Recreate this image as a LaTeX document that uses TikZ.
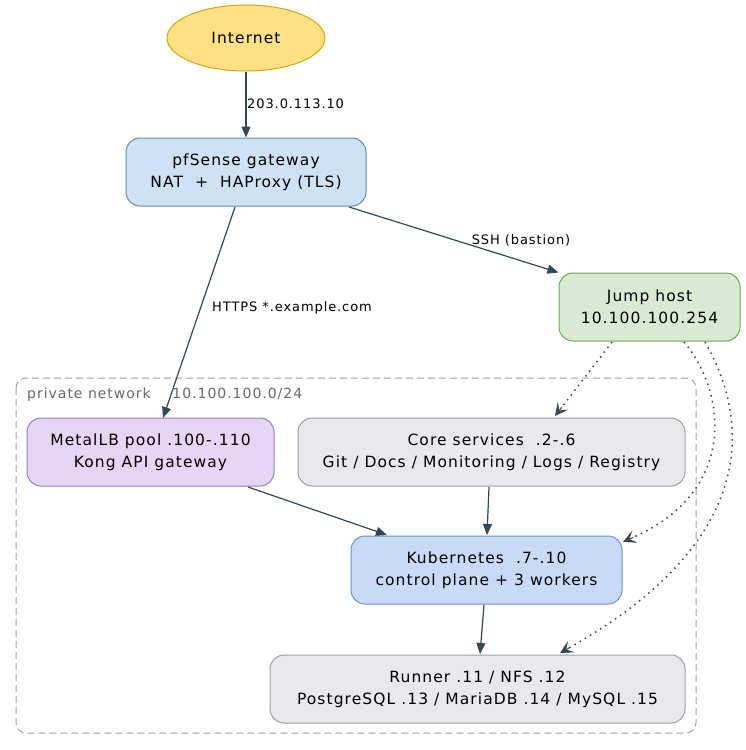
\documentclass[tikz,border=0pt]{standalone}
\usepackage{fontspec}
\setmainfont{DejaVu Sans}[LetterSpace=7]
\usetikzlibrary{arrows.meta,shapes.geometric,calc}
\definecolor{edgec}{HTML}{37474F}
\definecolor{inetf}{HTML}{FFE083}
\definecolor{inetd}{HTML}{D9A50A}
\definecolor{pff}{HTML}{CFE2F3}
\definecolor{pfd}{HTML}{5B8DBD}
\definecolor{jmpf}{HTML}{D9EAD3}
\definecolor{jmpd}{HTML}{6AA84F}
\definecolor{mlbf}{HTML}{E5D6F5}
\definecolor{mlbd}{HTML}{9080C6}
\definecolor{coref}{HTML}{E8E9EC}
\definecolor{cored}{HTML}{9E9E9E}
\definecolor{k8sf}{HTML}{C9DAF8}
\definecolor{k8sd}{HTML}{6D8FD3}
\definecolor{clud}{HTML}{A0A0A0}
\definecolor{clut}{HTML}{666666}
\tikzset{
  nodebox/.style={draw, rounded corners=14pt, minimum height=68pt, align=center, line width=1pt,
    inner sep=0pt, font=\fontsize{15.5}{22}\selectfont, text=black},
  edgelbl/.style={font=\fontsize{13}{15}\selectfont, text=black, inner sep=0pt},
  solidarrow/.style={draw=edgec, line width=1.2pt, -{Triangle[length=11pt,width=9pt]}},
  dotline/.style={draw=edgec, line width=1.5pt, dash pattern=on 1.5pt off 4.5pt},
  veetip/.style={draw=edgec, fill=edgec, line width=1pt, -{Stealth[length=13pt,width=13pt,inset=6pt]}},
}
\begin{document}
\begin{tikzpicture}[x=1pt,y=-1pt]
\useasboundingbox (0,0) rectangle (745,750);
% cluster
\draw[clud, line width=1pt, dash pattern=on 7pt off 4pt, rounded corners=10pt] (16,378) rectangle (696,733);
\node[anchor=base west, inner sep=0pt, text=clut, font=\fontsize{14}{16}\selectfont] (clulbl) at (27,398) {private network\ \ \ \ 10.100.100.0/24};
% nodes
\node[draw=inetd, fill=inetf, ellipse, line width=1pt, minimum width=158pt, minimum height=66pt, inner sep=0pt, font=\fontsize{15.5}{22}\selectfont] (inet) at (246,38) {Internet};
\node[nodebox, draw=pfd, fill=pff, minimum width=240pt] (pf) at (246,172) {pfSense gateway\\NAT~ +~ HAProxy (TLS)};
\node[nodebox, draw=jmpd, fill=jmpf, minimum width=181pt] (jump) at (649.5,307) {Jump host\\10.100.100.254};
\node[nodebox, draw=mlbd, fill=mlbf, minimum width=247pt] (mlb) at (150.5,452) {MetalLB pool .100-.110\\Kong API gateway};
\node[nodebox, draw=cored, fill=coref, minimum width=387pt] (core) at (491.5,452) {Core services~ .2-.6\\Git / Docs / Monitoring / Logs / Registry};
\node[nodebox, draw=k8sd, fill=k8sf, minimum width=271pt] (k8s) at (486.5,570) {Kubernetes~ .7-.10\\control plane + 3 workers};
\node[nodebox, draw=cored, fill=coref, minimum width=415pt] (run) at (477.5,689) {Runner .11 / NFS .12\\PostgreSQL .13 / MariaDB .14 / MySQL .15};
% edges
\draw[solidarrow] (inet.south) -- (pf.north);
\node[edgelbl, anchor=base west] (l1) at (247,108) {203.0.113.10};
\coordinate (pfa) at (349,207);
\draw[solidarrow] (pfa) -- (jump.north west);
\node[edgelbl, anchor=base] (l2) at (521,244) {SSH (bastion)};
\coordinate (pfb) at (235,207);
\coordinate (mlbt) at (163,418);
\draw[solidarrow] (pfb) -- (mlbt);
\node[edgelbl, anchor=base west] (l3) at (212,311) {HTTPS *.example.com};
\coordinate (mlbb) at (248,487);
\coordinate (k8sa) at (387,535);
\draw[solidarrow] (mlbb) -- (k8sa);
\coordinate (coreb) at (489,487);
\coordinate (k8sb) at (487,535);
\draw[solidarrow] (coreb) -- (k8sb);
\coordinate (k8sc) at (484,605);
\coordinate (runt) at (480,654);
\draw[solidarrow] (k8sc) -- (runt);
% dotted jump-host links
\coordinate (j1) at (612,342);
\coordinate (c1) at (555,416);
\coordinate (c1b) at ($(c1)+(6.7,-8.7)$);
\draw[dotline] (j1) -- (c1b);
\draw[veetip] (c1b) -- (c1);
\coordinate (j2) at (684,342);
\coordinate (k2) at (623,542);
\coordinate (k2b) at ($(k2)+(10.05,-4.47)$);
\draw[dotline] (j2) .. controls (725,390) and (740,490) .. (k2b);
\draw[veetip] (k2b) -- (k2);
\coordinate (j3) at (705,342);
\coordinate (r3) at (560,653);
\coordinate (r3b) at ($(r3)+(9.58,-5.41)$);
\draw[dotline] (j3) .. controls (750,420) and (760,540) .. (r3b);
\draw[veetip] (r3b) -- (r3);
\end{tikzpicture}
\end{document}
